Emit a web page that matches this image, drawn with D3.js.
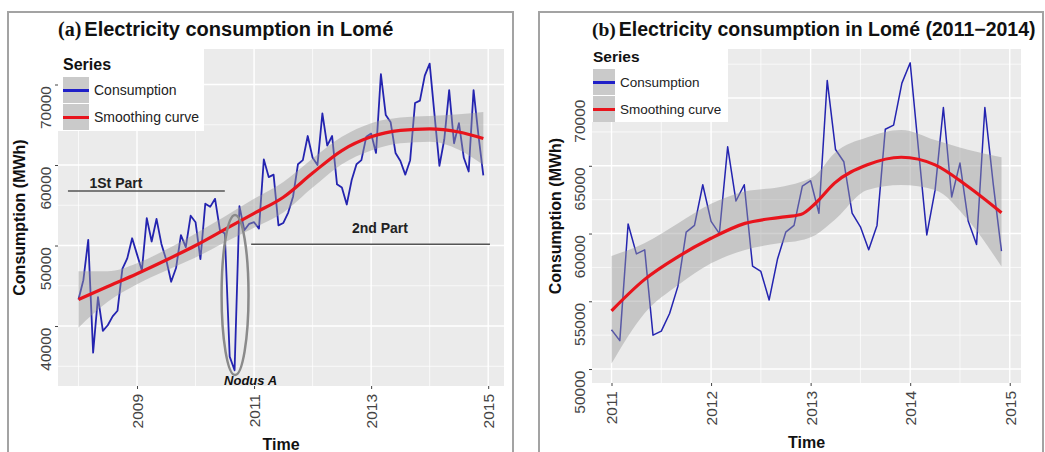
<!DOCTYPE html>
<html>
<head>
<meta charset="utf-8">
<script src="https://cdn.jsdelivr.net/npm/d3@7"></script>
<style>
  body { margin: 0; background: #fff; }
  svg { display: block; }
  text { font-family: "Liberation Sans", Arial, sans-serif; }
</style>
</head>
<body>
<svg id="chart" width="1045" height="452"></svg>
<script>
// monthly consumption (MWh), Jan 2008 .. Dec 2014
const years = [2008, 2009, 2010, 2011, 2012, 2013, 2014];
const consumption = [
  43300, 45700, 50700, 36700, 43600, 39400, 40100, 41200, 41900, 47100, 48400, 50900,
  48900, 46900, 53400, 50500, 53300, 50200, 48200, 45500, 47200, 51300, 49800, 53700,
  52900, 48300, 55200, 54800, 55800, 51900, 51500, 36200, 34500, 54900, 51900, 52700,
  52900, 52100, 60700, 58500, 58800, 52500, 52800, 54100, 56100, 60100, 60600, 63600,
  60900, 60000, 66400, 62400, 63600, 57600, 57200, 55100, 58100, 60100, 60600, 63500,
  63900, 61500, 71300, 66200, 65300, 61500, 60500, 58800, 60600, 67700, 68000, 71100,
  72600, 66200, 59900, 63200, 69300, 62700, 65200, 60900, 59200, 69300, 63700, 58700
];

// smoothing curve (a), whole period
const smoothA_t   = [2008.0, 2008.5, 2009.0, 2009.5, 2010.0, 2010.5, 2011.0, 2011.5, 2012.0, 2012.5, 2013.0, 2013.5, 2014.0, 2014.5, 2014.917];
const smoothA_fit = [43300, 44900, 46500, 48200, 50000, 52000, 54000, 56000, 59000, 61800, 63500, 64300, 64500, 64100, 63300];
const smoothA_lo  = [39800, 43000, 45200, 46900, 48500, 50400, 52200, 54100, 57200, 60100, 61800, 62700, 62900, 61900, 60000];
const smoothA_hi  = [46800, 46800, 47800, 49500, 51500, 53600, 55800, 57900, 60800, 63500, 65200, 65900, 66100, 66300, 66600];

// smoothing curve (b), 2011-2014
const smoothB_t   = [2011.0, 2011.33, 2011.67, 2012.0, 2012.34, 2012.68, 2012.9, 2013.05, 2013.24, 2013.57, 2013.91, 2014.25, 2014.58, 2014.917];
const smoothB_fit = [54300, 56600, 58300, 59650, 60750, 61180, 61400, 62240, 63720, 65070, 65630, 65070, 63470, 61540];
const smoothB_lo  = [50400, 54100, 56200, 57800, 58790, 59280, 59500, 59900, 61000, 63220, 63590, 63220, 61000, 57560];
const smoothB_hi  = [58350, 59280, 60760, 62190, 63100, 63420, 63800, 64330, 65930, 67100, 67650, 66910, 66180, 65630];

const yTicksA = [40000, 50000, 60000, 70000];
const yMinorA = [35000, 45000, 55000, 65000];
const xTicksA = [2009, 2011, 2013, 2015];
const xMinorA = [2008, 2010, 2012, 2014];
const yTicksB = [50000, 55000, 60000, 65000, 70000];
const yMinorB = [52500, 57500, 62500, 67500, 72500];
const xTicksB = [2011, 2012, 2013, 2014, 2015];
const xMinorB = [2011.5, 2012.5, 2013.5, 2014.5];

const series = [];
years.forEach((yr, i) => {
  for (let m = 0; m < 12; m++) series.push({ t: yr + m / 12, v: consumption[i * 12 + m] });
});
const zip = (t, fit, lo, hi) => t.map((d, i) => ({ t: d, fit: fit[i], lo: lo[i], hi: hi[i] }));

const svg = d3.select("#chart");

function drawPanel(p) {
  const g = svg.append("g");
  const x = d3.scaleLinear().domain(p.xDomain).range([p.left, p.right]);
  const y = d3.scaleLinear().domain(p.yDomain).range([p.bottom, p.top]);

  // outer frame
  g.append("rect")
    .attr("x", p.frame[0]).attr("y", p.frame[1])
    .attr("width", p.frame[2]).attr("height", p.frame[3])
    .attr("fill", "#fff").attr("stroke", "#a3a3a3").attr("stroke-width", 2);

  // panel background + grid
  g.append("rect")
    .attr("x", p.left).attr("y", p.top)
    .attr("width", p.right - p.left).attr("height", p.bottom - p.top)
    .attr("fill", "#ebebeb");

  const grid = g.append("g").attr("stroke", "#fff");
  grid.selectAll(".hmin").data(p.yMinor).join("line")
    .attr("x1", p.left).attr("x2", p.right)
    .attr("y1", d => y(d)).attr("y2", d => y(d)).attr("stroke-width", 0.7);
  grid.selectAll(".vmin").data(p.xMinor).join("line")
    .attr("y1", p.top).attr("y2", p.bottom)
    .attr("x1", d => x(d)).attr("x2", d => x(d)).attr("stroke-width", 0.7);
  grid.selectAll(".hmaj").data(p.yTicks).join("line")
    .attr("x1", p.left).attr("x2", p.right)
    .attr("y1", d => y(d)).attr("y2", d => y(d)).attr("stroke-width", 1.4);
  grid.selectAll(".vmaj").data(p.xTicks).join("line")
    .attr("y1", p.top).attr("y2", p.bottom)
    .attr("x1", d => x(d)).attr("x2", d => x(d)).attr("stroke-width", 1.4);

  // data line
  const data = series.filter(d => d.t >= p.from - 1e-6);
  g.append("path").datum(data)
    .attr("fill", "none").attr("stroke", "#2424b0").attr("stroke-width", p.lineW)
    .attr("stroke-linejoin", "round")
    .attr("d", d3.line().x(d => x(d.t)).y(d => y(d.v)));

  // ribbon + smoothing curve
  g.append("path").datum(p.smooth)
    .attr("fill", "#999").attr("fill-opacity", 0.45)
    .attr("d", d3.area().curve(d3.curveMonotoneX).x(d => x(d.t)).y0(d => y(d.lo)).y1(d => y(d.hi)));
  g.append("path").datum(p.smooth)
    .attr("fill", "none").attr("stroke", "#e8141c").attr("stroke-width", 3.2)
    .attr("d", d3.line().curve(d3.curveMonotoneX).x(d => x(d.t)).y(d => y(d.fit)));

  // annotations
  if (p.annotate) p.annotate(g, x, y);

  // axes
  const yAxis = g.append("g").attr("transform", `translate(${p.left},0)`)
    .call(d3.axisLeft(y).tickValues(p.yTicks).tickSize(3).tickFormat(d3.format("d")));
  yAxis.select(".domain").remove();
  yAxis.selectAll("line").attr("stroke", "#444");
  yAxis.selectAll("text")
    .attr("transform", "rotate(-90)").attr("text-anchor", "end")
    .attr("x", -1).attr("y", -12).attr("dy", "0.35em")
    .attr("fill", "#444").style("font-size", "15.5px")
    .style("font-family", "'Liberation Sans', Arial, sans-serif");

  const xAxis = g.append("g").attr("transform", `translate(0,${p.bottom})`)
    .call(d3.axisBottom(x).tickValues(p.xTicks).tickSize(3).tickFormat(d3.format("d")));
  xAxis.select(".domain").remove();
  xAxis.selectAll("line").attr("stroke", "#444");
  xAxis.selectAll("text")
    .attr("transform", "rotate(-90)").attr("text-anchor", "end")
    .attr("x", -8).attr("y", 0).attr("dy", "0.35em")
    .attr("fill", "#444").style("font-size", "15.5px")
    .style("font-family", "'Liberation Sans', Arial, sans-serif");

  g.append("text")
    .attr("transform", `translate(${p.yTitleX},${(p.top + p.bottom) / 2}) rotate(-90)`)
    .attr("text-anchor", "middle").attr("font-weight", "bold").attr("font-size", 16)
    .attr("fill", "#111").text("Consumption (MWh)");
  g.append("text")
    .attr("x", (p.left + p.right) / 2).attr("y", p.xTitleY)
    .attr("text-anchor", "middle").attr("font-weight", "bold").attr("font-size", 16)
    .attr("fill", "#111").text("Time");

  // title
  const title = g.append("text").attr("x", p.left).attr("y", 36).attr("font-size", p.titleSize).attr("fill", "#111");
  title.append("tspan").attr("font-family", "'Liberation Serif', 'Times New Roman', serif")
    .attr("font-weight", "bold").text(p.tag);
  title.append("tspan").attr("dx", 3).attr("font-weight", "bold").text(p.title);

  // legend
  const L = p.legend;
  const lg = g.append("g");
  lg.append("rect").attr("x", L.x).attr("y", L.y).attr("width", L.w).attr("height", L.h).attr("fill", "#fff");
  lg.append("text").attr("x", L.x + 5).attr("y", L.titleY).attr("font-weight", "bold")
    .attr("font-size", L.titleSize).attr("fill", "#111").text("Series");
  const keys = [{ label: "Consumption", color: "#2020c8" }, { label: "Smoothing curve", color: "#e8141c" }];
  keys.forEach((k, i) => {
    const ky = L.keyY + i * L.keyH;
    lg.append("rect").attr("x", L.x + 5).attr("y", ky).attr("width", L.keyW).attr("height", L.keyH - 1)
      .attr("fill", "#cacaca");
    lg.append("line").attr("x1", L.x + 5).attr("x2", L.x + 5 + L.keyW)
      .attr("y1", ky + L.keyH / 2).attr("y2", ky + L.keyH / 2)
      .attr("stroke", k.color).attr("stroke-width", 3);
    lg.append("text").attr("x", L.x + 5 + L.keyW + 5).attr("y", ky + L.keyH / 2).attr("dy", "0.35em")
      .attr("font-size", L.labelSize).attr("fill", "#222").text(k.label);
  });
}

drawPanel({
  frame: [8, 12, 505, 460],
  left: 58, right: 504, top: 49, bottom: 386,
  xDomain: [2007.65, 2015.27], yDomain: [32550, 74410],
  xTicks: xTicksA, xMinor: xMinorA, yTicks: yTicksA, yMinor: yMinorA,
  from: 2008, smooth: zip(smoothA_t, smoothA_fit, smoothA_lo, smoothA_hi),
  yTitleX: 25, xTitleY: 450, lineW: 1.8,
  tag: "(a)", title: "Electricity consumption in Lomé", titleSize: 20,
  legend: { x: 58, y: 46, w: 146, h: 85, titleY: 70, titleSize: 16, keyY: 77, keyW: 26, keyH: 27, labelSize: 14 },
  annotate: (g, x, y) => {
    g.append("line").attr("x1", x(2007.82)).attr("x2", x(2010.5))
      .attr("y1", y(56770)).attr("y2", y(56770)).attr("stroke", "#555").attr("stroke-width", 1.5);
    g.append("text").attr("x", x(2008.64)).attr("y", y(57140)).attr("text-anchor", "middle")
      .attr("font-size", 14).attr("font-weight", "bold").attr("fill", "#222").text("1St Part");
    g.append("line").attr("x1", x(2010.95)).attr("x2", x(2015.03))
      .attr("y1", y(50150)).attr("y2", y(50150)).attr("stroke", "#555").attr("stroke-width", 1.5);
    g.append("text").attr("x", x(2013.15)).attr("y", y(51550)).attr("text-anchor", "middle")
      .attr("font-size", 14).attr("font-weight", "bold").attr("fill", "#222").text("2nd Part");
    g.append("ellipse").attr("cx", x(2010.675)).attr("cy", y(43850))
      .attr("rx", x(2010.905) - x(2010.675)).attr("ry", y(33910) - y(43850))
      .attr("fill", "none").attr("stroke", "#8a8a8a").attr("stroke-width", 2.5);
    g.append("text").attr("x", x(2010.94)).attr("y", y(32670)).attr("text-anchor", "middle")
      .attr("font-size", 13).attr("font-weight", "bold").attr("font-style", "italic")
      .attr("fill", "#111").text("Nodus A");
  }
});

drawPanel({
  frame: [539, 12, 504, 460],
  left: 592, right: 1021, top: 49, bottom: 383,
  xDomain: [2010.804, 2015.113], yDomain: [48970, 73620],
  xTicks: xTicksB, xMinor: xMinorB, yTicks: yTicksB, yMinor: yMinorB,
  from: 2011, smooth: zip(smoothB_t, smoothB_fit, smoothB_lo, smoothB_hi),
  yTitleX: 561, xTitleY: 448, lineW: 1.5,
  tag: "(b)", title: "Electricity consumption in Lomé (2011\u22122014)", titleSize: 19.5,
  legend: { x: 588, y: 44, w: 140, h: 78, titleY: 62, titleSize: 15.5, keyY: 69, keyW: 22, keyH: 27, labelSize: 13.5 }
});
</script>
</body>
</html>
